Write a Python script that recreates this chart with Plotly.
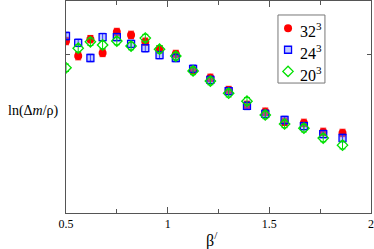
# pypi
import plotly.graph_objects as go

# globals
PLOTLY_OUTPUT_FILE = "out.html"

# data (y in arbitrary log units)
BETA = [0.5, 0.56, 0.62, 0.68, 0.75, 0.82, 0.89, 0.96, 1.04,
        1.125, 1.21, 1.30, 1.39, 1.48, 1.575, 1.67, 1.765, 1.86]

Y_32 = [0.245, -0.04, 0.28, 0.02, 0.415, 0.36, 0.23, 0.09, 0.0,
        -0.30, -0.45, -0.68, -0.96, -1.09, -1.28, -1.30, -1.47, -1.49]
Y_24 = [0.34, 0.21, -0.075, 0.32, 0.32, 0.19, 0.11, -0.02, -0.075,
        -0.28, -0.49, -0.70, -0.98, -1.13, -1.245, -1.36, -1.51, -1.585]
Y_20 = [-0.26, 0.11, 0.23, 0.17, 0.245, 0.15, 0.30, 0.09, -0.04,
        -0.32, -0.51, -0.74, -0.89, -1.15, -1.32, -1.40, -1.585, -1.72]

ERR_32 = [0.07] * len(BETA)
ERR_24 = [0.07] * len(BETA)
ERR_20 = [0.07] * len(BETA)

SERIES_NAMES = ["32<sup>3</sup>", "24<sup>3</sup>", "20<sup>3</sup>"]

X_TICKS = [0.5, 1, 1.5, 2]
X_TICK_TEXT = ["0.5", "1", "1.5", "2"]

SERIF = "Times New Roman, Liberation Serif, serif"
RED = "red"
BLUE = "blue"
GREEN = "#00e000"

# legend placement (fractions of the plot area)
LEG_BOX = (0.695, 0.613, 0.849, 0.934)
LEG_MARK_X = 0.728
LEG_TEXT_X = 0.762
LEG_ROWS_Y = [0.872, 0.770, 0.668]


def marker_styles():
    return [
        {"symbol": "circle", "size": 8, "color": RED, "line": {"width": 0}},
        {"symbol": "square", "size": 7, "color": "rgba(120,140,255,0.45)",
         "line": {"width": 1.3, "color": BLUE}},
        {"symbol": "diamond-open", "size": 8, "color": GREEN,
         "line": {"width": 1.3}},
    ]


def main():
    fig = go.Figure()
    styles = marker_styles()
    colors = [RED, BLUE, GREEN]

    # --- data series with error bars
    for yv, err, name, style, col in zip([Y_32, Y_24, Y_20],
                                         [ERR_32, ERR_24, ERR_20],
                                         SERIES_NAMES, styles, colors):
        fig.add_trace(go.Scatter(
            x=BETA, y=yv, mode="markers", name=name, marker=style,
            error_y={"type": "data", "array": err, "color": col,
                     "thickness": 1, "width": 3},
            showlegend=False,
        ))

    # --- hand-made legend (compact, like the original)
    for i, (style, name) in enumerate(zip(styles, SERIES_NAMES)):
        fig.add_trace(go.Scatter(
            x=[LEG_MARK_X], y=[LEG_ROWS_Y[i]], mode="markers",
            marker=style, xaxis="x2", yaxis="y2",
            showlegend=False, hoverinfo="skip",
        ))
        fig.add_annotation(
            text=name, xref="x domain", yref="y domain",
            x=LEG_TEXT_X, y=LEG_ROWS_Y[i] - 0.01, xanchor="left",
            yanchor="middle", showarrow=False,
            font={"family": SERIF, "size": 16, "color": "black"},
        )
    fig.add_shape(
        type="rect", xref="paper", yref="paper", layer="above",
        x0=LEG_BOX[0], y0=LEG_BOX[1], x1=LEG_BOX[2], y1=LEG_BOX[3],
        line={"color": "#777", "width": 1}, fillcolor="rgba(0,0,0,0)",
    )

    axis_common = {
        "showgrid": False, "zeroline": False,
        "showline": True, "linecolor": "#555", "linewidth": 1,
        "mirror": "ticks", "ticks": "inside", "tickcolor": "#555",
    }
    fig.update_layout(
        xaxis={"range": [0.5, 2], "tickvals": X_TICKS,
               "ticktext": X_TICK_TEXT, "ticklen": 6,
               "tickfont": {"family": SERIF, "size": 12, "color": "black"},
               "minor": {"tickvals": [0.75, 1.25, 1.75], "ticks": "inside",
                         "ticklen": 4, "tickcolor": "#555"},
               **axis_common},
        yaxis={"range": [-3, 1], "tickvals": [0], "showticklabels": False,
               "ticklen": 4, **axis_common},
        xaxis2={"range": [0, 1], "overlaying": "x", "visible": False},
        yaxis2={"range": [0, 1], "overlaying": "y", "visible": False},
    )

    fig.add_annotation(
        text="ln(Δ<i>m</i>/ρ)", xref="paper", yref="paper",
        x=-0.015, y=0.48, xanchor="right", yanchor="middle",
        showarrow=False, font={"family": SERIF, "size": 14, "color": "black"},
    )
    fig.add_annotation(
        text="β<sup>/</sup>", xref="paper", yref="paper",
        x=0.48, y=-0.065, xanchor="center", yanchor="top",
        showarrow=False, font={"family": SERIF, "size": 16, "color": "black"},
    )

    fig.update_layout(
        width=374, height=249,
        margin={"l": 66, "r": 3, "t": 1, "b": 36},
        plot_bgcolor="white", paper_bgcolor="white",
    )

    fig.write_html(PLOTLY_OUTPUT_FILE,
                   config={"displayModeBar": False},
                   post_script="document.body.style.margin='0';")


if __name__ == "__main__":
    main()
